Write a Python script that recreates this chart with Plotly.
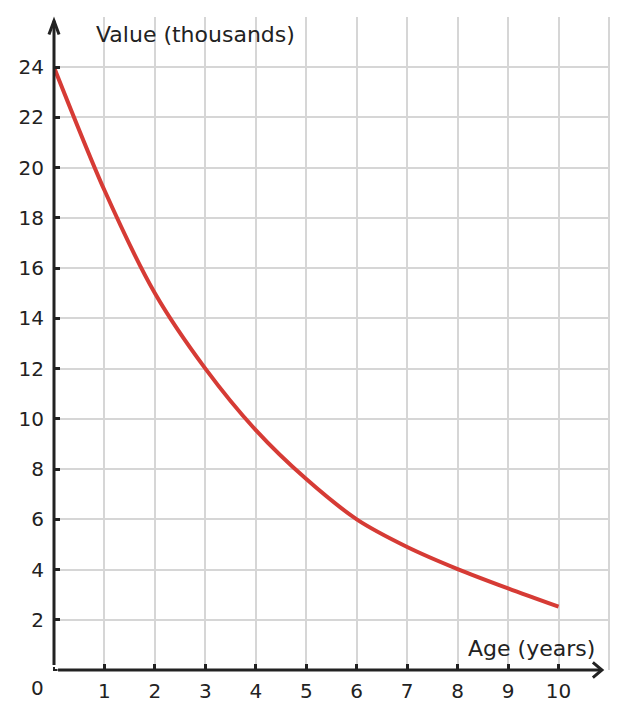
import plotly.graph_objects as go

# Data
age_years = [0, 1, 2, 3, 4, 5, 6, 7, 8, 9, 10]
value_thousands = [24, 19.1, 15.0, 12.0, 9.55, 7.6, 6.0, 4.9, 4.02, 3.25, 2.52]
x_ticks = [1, 2, 3, 4, 5, 6, 7, 8, 9, 10]
y_ticks = [2, 4, 6, 8, 10, 12, 14, 16, 18, 20, 22, 24]
x_title = "Age (years)"
y_title = "Value (thousands)"

X_MAX = 11
Y_MAX = 26

AXIS = "#222222"
GRID = "#d6d6d6"
RED = "#d63b35"
FONT = "DejaVu Sans"


def px(v):
    return v / X_MAX


def py(v):
    return v / Y_MAX


fig = go.Figure()
fig.add_trace(go.Scatter(
    x=age_years, y=value_thousands, mode="lines",
    line=dict(color=RED, width=4, shape="spline", smoothing=0.8),
    hoverinfo="skip", showlegend=False,
))

shapes = [
    # gridline at right edge
    dict(type="line", xref="paper", yref="paper", x0=1, x1=1, y0=0, y1=1,
         line=dict(color=GRID, width=2), layer="below"),
    # y axis with arrow
    dict(type="line", xref="paper", yref="paper", x0=0, x1=0, y0=py(0.2), y1=py(25.85),
         line=dict(color=AXIS, width=3)),
    dict(type="path", xref="paper", yref="paper",
         path=f"M {px(-0.1)},{py(25.3)} L {px(0)},{py(25.85)} L {px(0.1)},{py(25.3)}",
         line=dict(color=AXIS, width=3)),
    # corner piece
    dict(type="path", xref="paper", yref="paper",
         path=f"M {px(0)},{py(0.12)} L {px(0)},{py(0)} L {px(0.07)},{py(0)}",
         line=dict(color=AXIS, width=2)),
    # x axis with arrow
    dict(type="line", xref="paper", yref="paper", x0=px(0.08), x1=px(10.86), y0=0, y1=0,
         line=dict(color=AXIS, width=3)),
    dict(type="path", xref="paper", yref="paper",
         path=f"M {px(10.68)},{py(0.3)} L {px(10.86)},{py(0)} L {px(10.68)},{py(-0.3)}",
         line=dict(color=AXIS, width=3)),
]

annotations = [
    dict(x=0.8, y=25.3, xref="x", yref="y", text=y_title, showarrow=False,
         xanchor="left", yanchor="middle", font=dict(family=FONT, size=22, color=AXIS)),
    dict(x=10.77, y=0.85, xref="x", yref="y", text=x_title, showarrow=False,
         xanchor="right", yanchor="middle", font=dict(family=FONT, size=22, color=AXIS)),
    dict(x=0, y=0, xref="x", yref="y", text="0", showarrow=False,
         xanchor="center", yanchor="middle", xshift=-17, yshift=-18,
         font=dict(family=FONT, size=20, color=AXIS)),
]

fig.update_layout(
    width=610, height=704,
    margin=dict(l=46, r=9, t=9, b=40),
    plot_bgcolor="white", paper_bgcolor="white",
    shapes=shapes, annotations=annotations,
    font=dict(family=FONT, size=20, color=AXIS),
    xaxis=dict(range=[0, X_MAX], tickvals=x_ticks, showgrid=True, gridcolor=GRID, gridwidth=2,
               zeroline=False, showline=False, ticks="inside", ticklen=6, tickwidth=3,
               tickcolor=AXIS, fixedrange=True, ticklabelstandoff=7,
               tickfont=dict(family=FONT, size=20, color=AXIS)),
    yaxis=dict(range=[0, Y_MAX], tickvals=y_ticks, showgrid=True, gridcolor=GRID, gridwidth=2,
               zeroline=False, showline=False, ticks="inside", ticklen=6, tickwidth=3,
               tickcolor=AXIS, fixedrange=True, ticklabelstandoff=9,
               tickfont=dict(family=FONT, size=20, color=AXIS)),
)

fig.write_html("out.html")
